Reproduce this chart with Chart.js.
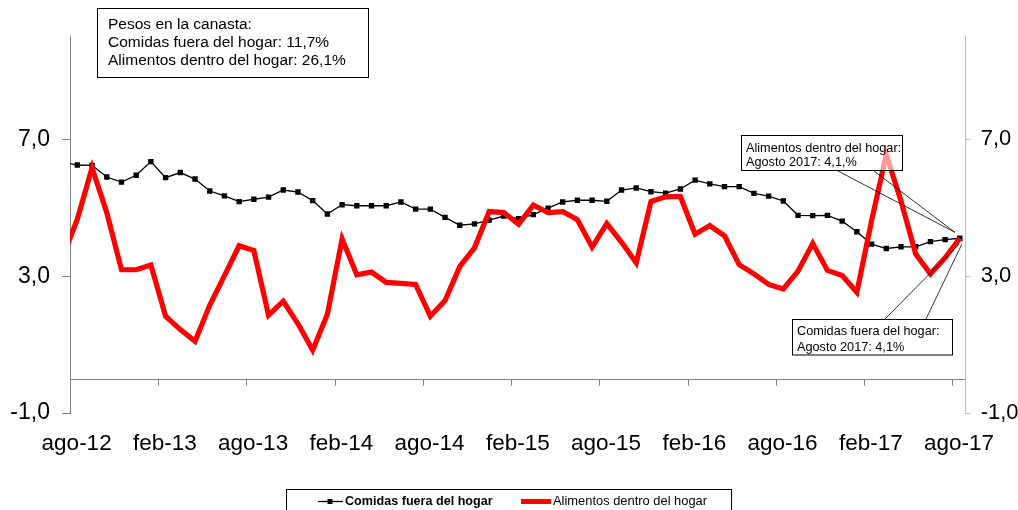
<!DOCTYPE html>
<html><head><meta charset="utf-8">
<script src="https://cdn.jsdelivr.net/npm/chart.js@4.4.1/dist/chart.umd.min.js"></script>
<style>html,body{margin:0;padding:0;background:#fff;}#wrap{width:1018px;height:510px;position:relative;}</style>
</head><body><div id="wrap"><canvas id="c" width="1018" height="510"></canvas></div>
<script>
// Month categories (first one, jul-12, lies just left of the plotted window and is clipped)
const months = ['jul-12','ago-12','sep-12','oct-12','nov-12','dic-12',
 'ene-13','feb-13','mar-13','abr-13','may-13','jun-13','jul-13','ago-13','sep-13','oct-13','nov-13','dic-13',
 'ene-14','feb-14','mar-14','abr-14','may-14','jun-14','jul-14','ago-14','sep-14','oct-14','nov-14','dic-14',
 'ene-15','feb-15','mar-15','abr-15','may-15','jun-15','jul-15','ago-15','sep-15','oct-15','nov-15','dic-15',
 'ene-16','feb-16','mar-16','abr-16','may-16','jun-16','jul-16','ago-16','sep-16','oct-16','nov-16','dic-16',
 'ene-17','feb-17','mar-17','abr-17','may-17','jun-17','jul-17','ago-17'];
const tickLabels = ['ago-12','feb-13','ago-13','feb-14','ago-14','feb-15','ago-15','feb-16','ago-16','feb-17','ago-17'];
const yTicks = [-1, 3, 7];
const seriesNames = ['Comidas fuera del hogar', 'Alimentos dentro del hogar'];
const comidas = [6.33,6.25,6.24,5.90,5.75,5.95,
 6.35,5.88,6.03,5.84,5.49,5.35,5.18,5.25,5.31,5.52,5.46,5.21,
 4.82,5.09,5.06,5.06,5.06,5.17,4.96,4.96,4.72,4.49,4.53,4.64,
 4.76,4.68,4.80,4.99,5.17,5.22,5.22,5.19,5.52,5.58,5.47,5.43,
 5.55,5.81,5.70,5.62,5.62,5.42,5.34,5.20,4.78,4.77,4.78,4.61,
 4.30,3.94,3.81,3.86,3.86,4.01,4.07,4.11];
const alimentos = [3.55,4.67,6.17,4.86,3.19,3.19,
 3.33,1.83,1.44,1.10,2.15,3.02,3.89,3.75,1.86,2.27,1.61,0.84,
 1.89,4.09,3.04,3.12,2.82,2.79,2.76,1.83,2.29,3.28,3.83,4.89,
 4.86,4.52,5.08,4.86,4.89,4.65,3.85,4.54,3.99,3.39,5.18,5.32,
 5.33,4.23,4.48,4.18,3.34,3.07,2.76,2.63,3.15,3.96,3.17,3.02,
 2.53,4.62,6.55,5.20,3.65,3.07,3.54,4.11];
const weightsText = ['Pesos en la canasta:','Comidas fuera del hogar: 11,7%','Alimentos dentro del hogar: 26,1%'];
const noteAlimentos = ['Alimentos dentro del hogar:','Agosto 2017: 4,1,%'];
const noteComidas = ['Comidas fuera del hogar:','Agosto 2017: 4,1%'];

const FONT = '"Liberation Sans", Arial, Helvetica, sans-serif';
const toXY = arr => arr.map((v, i) => ({x: i - 0.5, y: v}));
const fmt = v => v.toFixed(1).replace('.', ',');

function textLines(ctx, lines, x, y0, dy, font) {
  ctx.save();
  ctx.font = font; ctx.fillStyle = '#000'; ctx.textAlign = 'left'; ctx.textBaseline = 'middle';
  lines.forEach((t, i) => ctx.fillText(t, x, y0 + i * dy));
  ctx.restore();
}
function box(ctx, x, y, w, h, fill) {
  ctx.save();
  ctx.fillStyle = fill; ctx.fillRect(x, y, w, h);
  ctx.strokeStyle = '#000'; ctx.lineWidth = 1; ctx.strokeRect(x, y, w, h);
  ctx.restore();
}
function seg(ctx, x1, y1, x2, y2, color, w) {
  ctx.save(); ctx.strokeStyle = color; ctx.lineWidth = w;
  ctx.beginPath(); ctx.moveTo(x1, y1); ctx.lineTo(x2, y2); ctx.stroke(); ctx.restore();
}

const overlay = {
  id: 'overlay',
  beforeDatasetsDraw(chart) {
    const {ctx, chartArea: a, scales: {x, y}} = chart;
    const y0 = Math.round(y.getPixelForValue(0)) + 0.5;
    seg(ctx, a.left, y0, a.right, y0, '#808080', 1);
    tickLabels.forEach((l, k) => {
      const px = Math.round(x.getPixelForValue(6 * k)) + 0.5;
      seg(ctx, px, y0, px, y0 + 6, '#808080', 1);
    });
  },
  afterDatasetsDraw(chart) {
    const {ctx, scales: {x, y}} = chart;
    const last = alimentos.length - 1;
    const px = x.getPixelForValue(last - 0.5), py = y.getPixelForValue(alimentos[last]);
    // weights box
    box(ctx, 97.5, 8.5, 271, 69, '#fff');
    textLines(ctx, weightsText, 108, 24.5, 18.2, '15.5px ' + FONT);
    // note: alimentos
    seg(ctx, 838, 171, px - 5, py - 6, '#000', 0.8);
    seg(ctx, 874, 171, px - 5, py - 6, '#000', 0.8);
    box(ctx, 741.5, 135.5, 161, 35, 'rgba(255,255,255,0.6)');
    textLines(ctx, noteAlimentos, 746, 148.5, 14.4, '12.7px ' + FONT);
    // note: comidas
    seg(ctx, 885, 319, px - 1, py + 6, '#000', 0.8);
    seg(ctx, 926, 319, px + 2, py + 6, '#000', 0.8);
    box(ctx, 792.5, 319.5, 160, 35.5, '#fff');
    textLines(ctx, noteComidas, 797, 331.5, 15.5, '12.7px ' + FONT);
  },
  afterDraw(chart) {
    const {ctx} = chart;
    // legend
    box(ctx, 286.5, 489.5, 445, 25, '#fff');
    const ly = 501.5;
    seg(ctx, 318, ly, 343, ly, '#000', 1.3);
    ctx.save(); ctx.fillStyle = '#000'; ctx.fillRect(327.5, ly - 2.5, 5, 5); ctx.restore();
    ctx.save(); ctx.font = 'bold 12.6px ' + FONT; ctx.textBaseline = 'middle'; ctx.fillStyle = '#000';
    ctx.fillText(seriesNames[0], 345, ly); ctx.restore();
    seg(ctx, 521, ly, 551, ly, '#ff0000', 5);
    ctx.save(); ctx.font = '12.9px ' + FONT; ctx.textBaseline = 'middle'; ctx.fillStyle = '#000';
    ctx.fillText(seriesNames[1], 553, ly); ctx.restore();
  }
};

const yCommon = {
  min: -1, max: 10,
  afterBuildTicks: s => { s.ticks = yTicks.map(v => ({value: v})); },
};

new Chart(document.getElementById('c'), {
  type: 'line',
  data: {
    labels: months,
    datasets: [
      {label: seriesNames[0], data: toXY(comidas), borderColor: '#000', backgroundColor: '#000',
       borderWidth: 1.3, pointStyle: 'rect', pointRadius: 3.8, pointBorderWidth: 0,
       pointBackgroundColor: '#000', order: 1, clip: 0, tension: 0},
      {label: seriesNames[1], data: toXY(alimentos), borderColor: '#ff0000', backgroundColor: '#ff0000',
       borderWidth: 5.2, pointRadius: 0, order: 0, clip: 0, tension: 0}
    ]
  },
  options: {
    responsive: false, animation: false, events: [],
    layout: {padding: {top: 36.7, left: 0, right: 0, bottom: 0}},
    plugins: {legend: {display: false}, tooltip: {enabled: false}},
    scales: {
      x: {
        type: 'linear', min: 0, max: 60.9,
        grid: {display: false}, border: {display: false},
        afterBuildTicks: s => { s.ticks = tickLabels.map((l, k) => ({value: 6 * k + 0.45})); },
        ticks: {autoSkip: false, maxRotation: 0, padding: 9, color: '#000',
                font: {family: FONT, size: 22.5},
                callback: v => tickLabels[Math.round((v - 0.45) / 6)]},
        afterFit: s => { s.height = 96.9; }
      },
      y: Object.assign({}, yCommon, {
        position: 'left',
        grid: {drawOnChartArea: false, tickLength: 8, color: '#808080'},
        border: {color: '#808080', width: 1},
        ticks: {padding: 12, color: '#000', font: {family: FONT, size: 23}, callback: v => fmt(v)},
        afterFit: s => { s.width = 70; }
      }),
      y2: Object.assign({}, yCommon, {
        position: 'right',
        grid: {drawOnChartArea: false, tickLength: 5, color: '#bfbfbf'},
        border: {color: '#bfbfbf', width: 1},
        ticks: {padding: 10, color: '#000', font: {family: FONT, size: 22}, callback: v => fmt(v)},
        afterFit: s => { s.width = 52.3; }
      })
    }
  },
  plugins: [overlay]
});
</script></body></html>
